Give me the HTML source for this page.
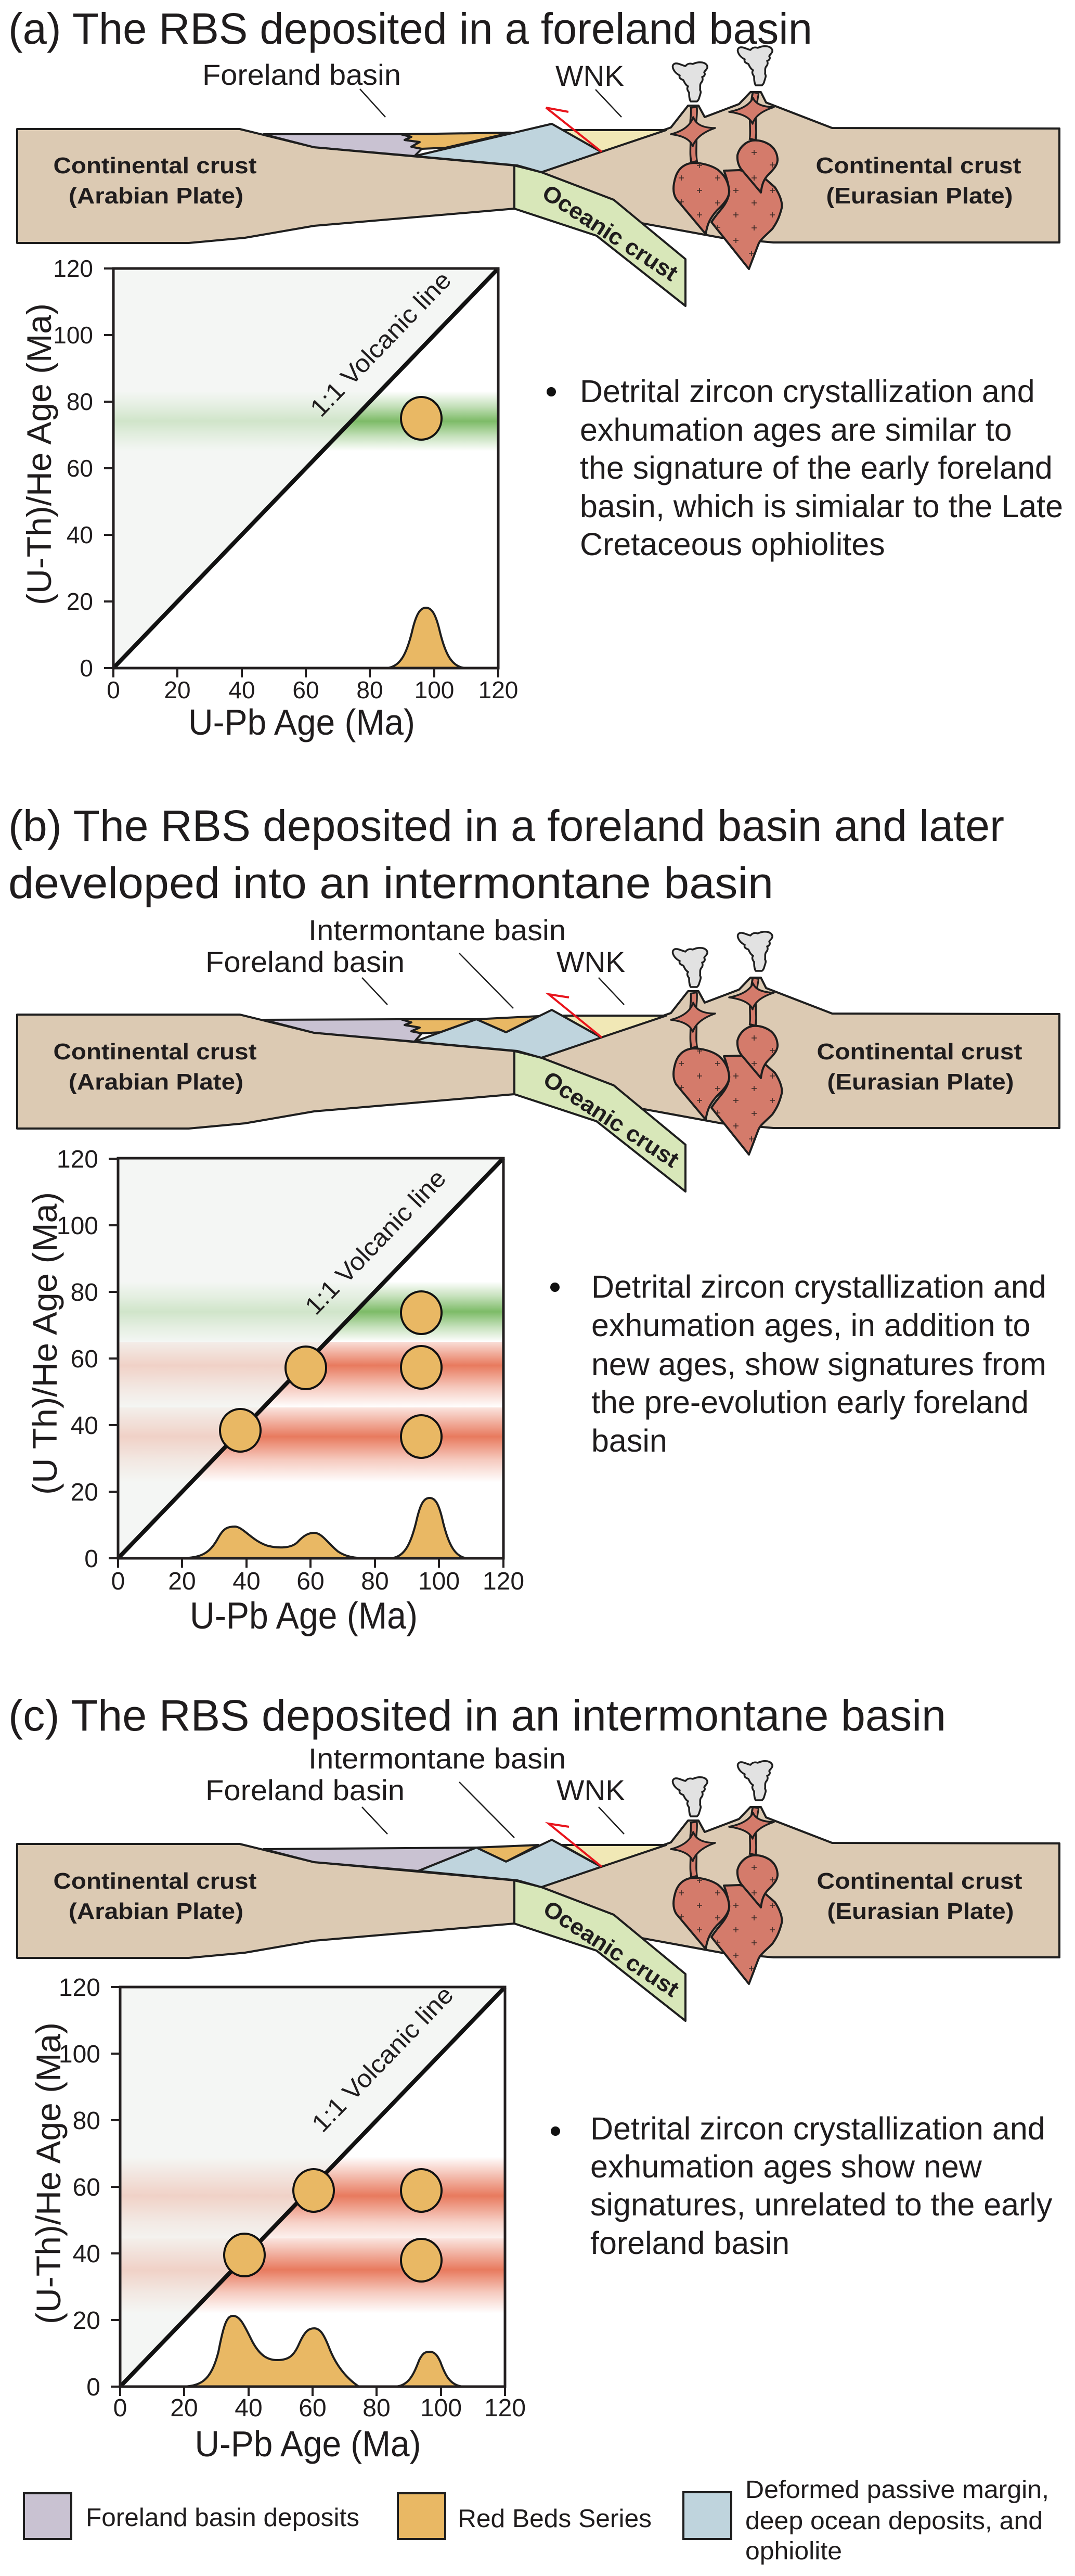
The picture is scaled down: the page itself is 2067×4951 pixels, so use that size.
<!DOCTYPE html>
<html><head><meta charset="utf-8">
<style>
html,body{margin:0;padding:0;background:#fff;}
svg{display:block;}
text{font-family:"Liberation Sans",Arial,sans-serif;fill:#1f1c1d;}
.b{font-weight:bold;}
</style></head><body>
<svg xmlns="http://www.w3.org/2000/svg" xmlns:xlink="http://www.w3.org/1999/xlink" width="2067" height="4951" viewBox="0 0 2067 4951">
<defs>
  <linearGradient id="gG" x1="0" y1="0" x2="0" y2="1">
    <stop offset="0" stop-color="#7dbb67" stop-opacity="0"/>
    <stop offset="0.25" stop-color="#7dbb67" stop-opacity="0.45"/>
    <stop offset="0.5" stop-color="#7dbb67" stop-opacity="1"/>
    <stop offset="0.75" stop-color="#7dbb67" stop-opacity="0.45"/>
    <stop offset="1" stop-color="#7dbb67" stop-opacity="0"/>
  </linearGradient>
  <linearGradient id="rB1" x1="0" y1="0" x2="0" y2="1">
    <stop offset="0" stop-color="#e87a5e" stop-opacity="0.25"/>
    <stop offset="0.36" stop-color="#e87a5e" stop-opacity="1"/>
    <stop offset="0.7" stop-color="#e87a5e" stop-opacity="0.4"/>
    <stop offset="1" stop-color="#e87a5e" stop-opacity="0"/>
  </linearGradient>
  <linearGradient id="rB2" x1="0" y1="0" x2="0" y2="1">
    <stop offset="0" stop-color="#e87a5e" stop-opacity="0.2"/>
    <stop offset="0.39" stop-color="#e87a5e" stop-opacity="1"/>
    <stop offset="0.7" stop-color="#e87a5e" stop-opacity="0.4"/>
    <stop offset="1" stop-color="#e87a5e" stop-opacity="0"/>
  </linearGradient>
  <linearGradient id="rC1" x1="0" y1="0" x2="0" y2="1">
    <stop offset="0" stop-color="#e87a5e" stop-opacity="0"/>
    <stop offset="0.48" stop-color="#e87a5e" stop-opacity="1"/>
    <stop offset="0.8" stop-color="#e87a5e" stop-opacity="0.35"/>
    <stop offset="1" stop-color="#e87a5e" stop-opacity="0.1"/>
  </linearGradient>
  <linearGradient id="rC2" x1="0" y1="0" x2="0" y2="1">
    <stop offset="0" stop-color="#e87a5e" stop-opacity="0.2"/>
    <stop offset="0.42" stop-color="#e87a5e" stop-opacity="1"/>
    <stop offset="0.72" stop-color="#e87a5e" stop-opacity="0.4"/>
    <stop offset="1" stop-color="#e87a5e" stop-opacity="0"/>
  </linearGradient>

  <g id="xs" stroke="#1e1e1e" stroke-width="4" stroke-linejoin="round">
    <!-- left crust -->
    <polygon fill="#dccab3" points="33,248 461,248 604,283 989,318 989,401 604,434 471,457 363,467 33,467"/>
    <!-- right crust -->
    <polygon fill="#dccab3" points="1041,331 1156,292 1290,245 1323,203 1343,203 1355,225 1421,200 1443,177 1463,177 1473,197 1600,246 2037,247 2037,466 1487,466 1387,457 1234,429 1180,384"/>
    <!-- oceanic crust -->
    <polygon fill="#d8e7b9" points="989,318 1041,331 1180,384 1318,498 1318,588 1147,453 989,401"/>
    <!-- yellow WNK -->
    <polygon fill="#f1e8b6" points="1081,250 1281,250 1156,292"/>
    <!-- plutons -->
    <path fill="#d47b6b" d="M1392,328 L1422,327 C1440,330 1460,345 1473,345 L1490,360 C1500,375 1505,390 1503,400 C1498,420 1492,430 1485,440 C1470,455 1462,460 1458,470 L1440,517 L1368,427 C1375,415 1385,405 1390,398 C1400,385 1403,372 1402,365 C1400,350 1396,338 1392,328 Z"/>
    <path fill="#d47b6b" d="M1333,313 C1318,314 1305,322 1299,340 C1294,356 1293,370 1300,382 L1357,450 C1360,430 1365,420 1378,405 C1392,392 1402,380 1402,368 C1401,350 1393,336 1380,326 C1368,318 1350,313 1333,313 Z"/>
    <path fill="#d47b6b" d="M1447,270 C1435,272 1422,282 1418,298 C1417,310 1420,318 1425,325 L1463,370 C1465,355 1468,345 1478,335 C1490,323 1496,315 1495,305 C1494,293 1488,283 1478,277 C1468,271 1457,269 1447,270 Z"/>
    <!-- dikes -->
    <path fill="none" stroke-width="15" d="M1334,205 C1336,220 1331,235 1333,253 C1335,275 1331,295 1335,313"/>
    <path fill="none" stroke="#d47b6b" stroke-width="8" d="M1334,208 C1336,220 1331,235 1333,253 C1335,275 1331,295 1335,309"/>
    <path fill="none" stroke-width="15" d="M1453,177 C1450,195 1449,205 1448,213 C1446,235 1450,255 1447,270"/>
    <path fill="none" stroke="#d47b6b" stroke-width="8" d="M1453,180 C1450,195 1449,205 1448,213 C1446,235 1450,255 1447,266"/>
    <!-- stars -->
    <path fill="#d47b6b" stroke-width="3.5" d="M1290,258 Q1325,249 1333,225 Q1340,246 1375,246 Q1340,258 1332,281 Q1325,262 1290,258 Z"/>
    <path fill="#d47b6b" stroke-width="3.5" d="M1402,215 Q1438,208 1448,188 Q1454,205 1488,206 Q1453,217 1447,238 Q1440,220 1402,215 Z"/>
    <!-- smoke -->
    <path fill="#e2e2e2" stroke-width="3.5" d="M1328,195 C1325,190 1325,183 1325,178 C1322,174 1320,170 1323,166 C1318,163 1316,158 1314,154 C1309,152 1305,150 1307,145 C1301,142 1296,137 1294,131 C1292,125 1296,121 1302,122 C1308,123 1313,126 1318,127 C1321,123 1326,121 1332,123 C1337,121 1342,119 1350,120 C1356,121 1361,125 1360,130 C1359,134 1355,136 1354,139 C1357,143 1354,147 1350,148 C1352,152 1351,156 1348,159 C1345,163 1347,168 1346,173 C1349,177 1346,182 1345,186 C1344,190 1343,193 1340,195 Z"/>
    <path fill="#e2e2e2" stroke-width="3.5" transform="translate(125,-31)" d="M1328,195 C1325,190 1325,183 1325,178 C1322,174 1320,170 1323,166 C1318,163 1316,158 1314,154 C1309,152 1305,150 1307,145 C1301,142 1296,137 1294,131 C1292,125 1296,121 1302,122 C1308,123 1313,126 1318,127 C1321,123 1326,121 1332,123 C1337,121 1342,119 1350,120 C1356,121 1361,125 1360,130 C1359,134 1355,136 1354,139 C1357,143 1354,147 1350,148 C1352,152 1351,156 1348,159 C1345,163 1347,168 1346,173 C1349,177 1346,182 1345,186 C1344,190 1343,193 1340,195 Z"/>
    <!-- crosses -->
    <path fill="none" stroke="#3a2a26" stroke-width="1.6" d="M1305,342h10M1310,337v10 M1375,342h10M1380,337v10 M1340,366h10M1345,361v10 M1375,390h10M1380,385v10 M1340,413h10M1345,408v10 M1305,388h10M1310,383v10 M1340,318h10M1345,313v10 M1410,366h10M1415,361v10 M1445,390h10M1450,385v10 M1410,413h10M1415,408v10 M1480,413h10M1485,408v10 M1445,438h10M1450,433v10 M1410,462h10M1415,457v10 M1480,366h10M1485,361v10 M1375,437h10M1380,432v10 M1440,487h10M1445,482v10 M1445,293h10M1450,288v10 M1480,317h10M1485,312v10 M1445,342h10M1450,337v10"/>
  </g>
</defs>

<!-- ============ (a) ============ -->
<text x="16" y="84" font-size="84" textLength="1546" lengthAdjust="spacingAndGlyphs">(a) The RBS deposited in a foreland basin</text>

<g>
  <use xlink:href="#xs" href="#xs"/>
  <g stroke="#1e1e1e" stroke-width="4" stroke-linejoin="round">
    <polygon fill="#c9c2d2" points="507,258 771,258 791,263 778,269 807,273 791,282 811,286 797,300 604,283"/>
    <polygon fill="#e9b864" points="771,258 982,255 857,284 811,286 791,282 807,273 778,269 791,263"/>
    <polygon fill="#bfd4dd" points="797,300 1061,238 1156,292 1041,331 995,318"/>
  </g>
  <path stroke="#e8141c" stroke-width="4" fill="none" d="M1157,292 L1050,207 L1093,215"/>
  <g stroke="#1e1e1e" stroke-width="2.5">
    <line x1="692" y1="171" x2="741" y2="225"/>
    <line x1="1145" y1="172" x2="1195" y2="225"/>
  </g>
  <text x="389" y="163" font-size="56" textLength="382" lengthAdjust="spacingAndGlyphs">Foreland basin</text>
  <text x="1068" y="165" font-size="56" textLength="132" lengthAdjust="spacingAndGlyphs">WNK</text>
  <text class="b" x="298" y="333" font-size="44" text-anchor="middle" textLength="391" lengthAdjust="spacingAndGlyphs">Continental crust</text>
  <text class="b" x="300" y="391" font-size="44" text-anchor="middle" textLength="336" lengthAdjust="spacingAndGlyphs">(Arabian Plate)</text>
  <text class="b" x="1766" y="333" font-size="44" text-anchor="middle" textLength="395" lengthAdjust="spacingAndGlyphs">Continental crust</text>
  <text class="b" x="1768" y="391" font-size="44" text-anchor="middle" textLength="359" lengthAdjust="spacingAndGlyphs">(Eurasian Plate)</text>
  <text class="b" transform="translate(1165,460) rotate(33)" font-size="44" text-anchor="middle" textLength="300" lengthAdjust="spacingAndGlyphs">Oceanic crust</text>
</g>

<!-- chart a -->
<g>
  <polygon fill="#f4f6f4" points="218,516 218,1284 958,516"/>
  <rect x="218" y="752" width="740" height="115" fill="url(#gG)"/>
  <polygon fill="#f4f6f4" fill-opacity="0.7" points="218,516 218,1284 958,516"/>
  <path fill="#e9b864" stroke="#1e1e1e" stroke-width="4" d="M742,1284 C770,1283 782,1255 792,1215 C800,1180 808,1168 819,1168 C830,1168 838,1180 846,1215 C856,1255 868,1283 896,1284 Z"/>
  <line x1="218" y1="1284" x2="958" y2="516" stroke="#111" stroke-width="8"/>
  <rect x="218" y="516" width="740" height="768" fill="none" stroke="#231f20" stroke-width="5"/>
  <path stroke="#231f20" stroke-width="4" d="M200,1284h18M200,1156h18M200,1028h18M200,900h18M200,772h18M200,644h18M200,516h18 M218,1284v18M341,1284v18M465,1284v18M588,1284v18M711,1284v18M835,1284v18M958,1284v18"/>
  <ellipse cx="810" cy="804" rx="39" ry="41" fill="#e9b864" stroke="#111" stroke-width="4"/>
  <text transform="translate(617,804) rotate(-46.07)" font-size="48" textLength="365" lengthAdjust="spacingAndGlyphs">1:1 Volcanic line</text>
  <g font-size="46" text-anchor="end">
    <text x="179" y="1300">0</text><text x="179" y="1172">20</text><text x="179" y="1044">40</text><text x="179" y="916">60</text><text x="179" y="788">80</text><text x="179" y="660">100</text><text x="179" y="532">120</text>
  </g>
  <g font-size="46" text-anchor="middle">
    <text x="218" y="1342">0</text><text x="341" y="1342">20</text><text x="465" y="1342">40</text><text x="588" y="1342">60</text><text x="711" y="1342">80</text><text x="835" y="1342">100</text><text x="958" y="1342">120</text>
  </g>
  <text x="580" y="1412" font-size="70" text-anchor="middle" textLength="436" lengthAdjust="spacingAndGlyphs">U-Pb Age (Ma)</text>
  <text transform="translate(98,873) rotate(-90)" font-size="66" text-anchor="middle" textLength="580" lengthAdjust="spacingAndGlyphs">(U-Th)/He Age (Ma)</text>
</g>
<circle cx="1060" cy="753" r="9" fill="#111"/>
<g font-size="61">
  <text x="1115" y="773">Detrital zircon crystallization and</text>
  <text x="1115" y="847">exhumation ages are similar to</text>
  <text x="1115" y="920">the signature of the early foreland</text>
  <text x="1115" y="994">basin, which is simialar to the Late</text>
  <text x="1115" y="1067">Cretaceous ophiolites</text>
</g>

<!-- ============ (b) ============ -->
<text x="16" y="1616" font-size="84" textLength="1915" lengthAdjust="spacingAndGlyphs">(b) The RBS deposited in a foreland basin and later</text>
<text x="16" y="1726" font-size="84" textLength="1471" lengthAdjust="spacingAndGlyphs">developed into an intermontane basin</text>

<g transform="translate(0,1702)">
  <use xlink:href="#xs" href="#xs"/>
  <g stroke="#1e1e1e" stroke-width="4" stroke-linejoin="round">
    <polygon fill="#c9c2d2" points="507,258 771,257 791,263 778,268 807,273 791,280 811,284 797,300 604,283"/>
    <polygon fill="#e9b864" points="771,257 916,257 846,282 811,284 791,280 807,273 778,268 791,263"/>
    <polygon fill="#e9b864" points="916,257 1035,251 973,282"/>
    <polygon fill="#bfd4dd" points="797,300 916,257 973,282 1061,239 1156,292 1041,331 995,318"/>
  </g>
  <path stroke="#e8141c" stroke-width="4" fill="none" d="M1157,292 L1055,209 L1094,215"/>
  <g stroke="#1e1e1e" stroke-width="2.5">
    <line x1="696" y1="177" x2="745" y2="229"/>
    <line x1="883" y1="130" x2="987" y2="236"/>
    <line x1="1151" y1="177" x2="1200" y2="229"/>
  </g>
  <text x="593" y="105" font-size="56" textLength="495" lengthAdjust="spacingAndGlyphs">Intermontane basin</text>
  <text x="395" y="166" font-size="56" textLength="383" lengthAdjust="spacingAndGlyphs">Foreland basin</text>
  <text x="1070" y="166" font-size="56" textLength="132" lengthAdjust="spacingAndGlyphs">WNK</text>
  <text class="b" x="298" y="334" font-size="44" text-anchor="middle" textLength="391" lengthAdjust="spacingAndGlyphs">Continental crust</text>
  <text class="b" x="300" y="392" font-size="44" text-anchor="middle" textLength="336" lengthAdjust="spacingAndGlyphs">(Arabian Plate)</text>
  <text class="b" x="1768" y="334" font-size="44" text-anchor="middle" textLength="395" lengthAdjust="spacingAndGlyphs">Continental crust</text>
  <text class="b" x="1770" y="392" font-size="44" text-anchor="middle" textLength="359" lengthAdjust="spacingAndGlyphs">(Eurasian Plate)</text>
  <text class="b" transform="translate(1167,462) rotate(33)" font-size="44" text-anchor="middle" textLength="300" lengthAdjust="spacingAndGlyphs">Oceanic crust</text>
</g>

<!-- chart b -->
<g>
  <polygon fill="#f4f6f4" points="227,2226 227,2995 968,2226"/>
  <rect x="227" y="2463" width="741" height="116" fill="url(#gG)"/>
  <rect x="227" y="2579" width="741" height="126" fill="url(#rB1)"/>
  <rect x="227" y="2705" width="741" height="144" fill="url(#rB2)"/>
  <polygon fill="#f4f6f4" fill-opacity="0.7" points="227,2226 227,2995 968,2226"/>
  <path fill="#e9b864" stroke="#1e1e1e" stroke-width="4" d="M340,2995 C385,2995 402,2988 420,2955 C430,2937 438,2934 452,2934 C468,2935 485,2962 515,2971 C535,2976 560,2976 572,2964 C585,2950 594,2946 605,2946 C620,2947 632,2968 650,2982 C665,2992 682,2995 705,2995 Z"/>
  <path fill="#e9b864" stroke="#1e1e1e" stroke-width="4" d="M750,2995 C778,2994 790,2966 800,2926 C808,2890 815,2879 826,2879 C837,2879 844,2890 852,2926 C862,2966 874,2994 900,2995 Z"/>
  <line x1="227" y1="2995" x2="968" y2="2226" stroke="#111" stroke-width="8"/>
  <rect x="227" y="2226" width="741" height="769" fill="none" stroke="#231f20" stroke-width="5"/>
  <path stroke="#231f20" stroke-width="4" d="M209,2995h18M209,2867h18M209,2739h18M209,2611h18M209,2483h18M209,2355h18M209,2227h18 M227,2995v18M350,2995v18M474,2995v18M597,2995v18M721,2995v18M844,2995v18M968,2995v18"/>
  <g fill="#e9b864" stroke="#111" stroke-width="4">
    <ellipse cx="810" cy="2523" rx="39" ry="41"/>
    <ellipse cx="588" cy="2629" rx="39" ry="41"/>
    <ellipse cx="810" cy="2628" rx="39" ry="41"/>
    <ellipse cx="462" cy="2749" rx="39" ry="41"/>
    <ellipse cx="810" cy="2761" rx="39" ry="41"/>
  </g>
  <text transform="translate(607,2530) rotate(-46.07)" font-size="48" textLength="365" lengthAdjust="spacingAndGlyphs">1:1 Volcanic line</text>
  <g font-size="48" text-anchor="end">
    <text x="189" y="3012">0</text><text x="189" y="2884">20</text><text x="189" y="2756">40</text><text x="189" y="2628">60</text><text x="189" y="2500">80</text><text x="189" y="2372">100</text><text x="189" y="2244">120</text>
  </g>
  <g font-size="48" text-anchor="middle">
    <text x="227" y="3055">0</text><text x="350" y="3055">20</text><text x="474" y="3055">40</text><text x="597" y="3055">60</text><text x="721" y="3055">80</text><text x="844" y="3055">100</text><text x="968" y="3055">120</text>
  </g>
  <text x="584" y="3130" font-size="72" text-anchor="middle" textLength="438" lengthAdjust="spacingAndGlyphs">U-Pb Age (Ma)</text>
  <text transform="translate(109,2582) rotate(-90)" font-size="66" text-anchor="middle" textLength="582" lengthAdjust="spacingAndGlyphs">(U Th)/He Age (Ma)</text>
</g>
<circle cx="1067" cy="2474" r="9" fill="#111"/>
<g font-size="61">
  <text x="1137" y="2494">Detrital zircon crystallization and</text>
  <text x="1137" y="2568">exhumation ages, in addition to</text>
  <text x="1137" y="2643">new ages, show signatures from</text>
  <text x="1137" y="2716">the pre-evolution early foreland</text>
  <text x="1137" y="2790">basin</text>
</g>

<!-- ============ (c) ============ -->
<text x="16" y="3326" font-size="84" textLength="1803" lengthAdjust="spacingAndGlyphs">(c) The RBS deposited in an intermontane basin</text>

<g transform="translate(0,3296)">
  <use xlink:href="#xs" href="#xs"/>
  <g stroke="#1e1e1e" stroke-width="4" stroke-linejoin="round">
    <polygon fill="#c9c2d2" points="507,258 916,255 804,300 604,283"/>
    <polygon fill="#e9b864" points="916,255 1035,250 973,282"/>
    <polygon fill="#bfd4dd" points="804,300 916,255 973,282 1061,240 1156,292 1041,331 995,318"/>
  </g>
  <path stroke="#e8141c" stroke-width="4" fill="none" d="M1157,292 L1055,209 L1094,215"/>
  <g stroke="#1e1e1e" stroke-width="2.5">
    <line x1="696" y1="177" x2="745" y2="229"/>
    <line x1="883" y1="129" x2="989" y2="236"/>
    <line x1="1151" y1="177" x2="1200" y2="229"/>
  </g>
  <text x="593" y="103" font-size="56" textLength="495" lengthAdjust="spacingAndGlyphs">Intermontane basin</text>
  <text x="395" y="164" font-size="56" textLength="383" lengthAdjust="spacingAndGlyphs">Foreland basin</text>
  <text x="1070" y="164" font-size="56" textLength="132" lengthAdjust="spacingAndGlyphs">WNK</text>
  <text class="b" x="298" y="334" font-size="44" text-anchor="middle" textLength="391" lengthAdjust="spacingAndGlyphs">Continental crust</text>
  <text class="b" x="300" y="392" font-size="44" text-anchor="middle" textLength="336" lengthAdjust="spacingAndGlyphs">(Arabian Plate)</text>
  <text class="b" x="1768" y="334" font-size="44" text-anchor="middle" textLength="395" lengthAdjust="spacingAndGlyphs">Continental crust</text>
  <text class="b" x="1770" y="392" font-size="44" text-anchor="middle" textLength="359" lengthAdjust="spacingAndGlyphs">(Eurasian Plate)</text>
  <text class="b" transform="translate(1167,462) rotate(33)" font-size="44" text-anchor="middle" textLength="300" lengthAdjust="spacingAndGlyphs">Oceanic crust</text>
</g>

<!-- chart c -->
<g>
  <polygon fill="#f4f6f4" points="231,3819 231,4587 971,3819"/>
  <rect x="231" y="4145" width="740" height="157" fill="url(#rC1)"/>
  <rect x="231" y="4302" width="740" height="144" fill="url(#rC2)"/>
  <polygon fill="#f4f6f4" fill-opacity="0.7" points="231,3819 231,4587 971,3819"/>
  <path fill="#e9b864" stroke="#1e1e1e" stroke-width="4" d="M345,4587 C385,4587 405,4578 420,4520 C430,4468 436,4451 448,4451 C462,4451 470,4470 485,4500 C500,4528 515,4536 533,4536 C555,4536 565,4528 575,4505 C587,4478 595,4475 604,4475 C615,4475 622,4485 632,4510 C645,4545 665,4570 690,4587 Z"/>
  <path fill="#e9b864" stroke="#1e1e1e" stroke-width="4" d="M758,4587 C786,4587 796,4562 806,4536 C813,4522 818,4520 826,4520 C834,4520 840,4524 847,4540 C856,4565 866,4586 892,4587 Z"/>
  <line x1="231" y1="4587" x2="971" y2="3819" stroke="#111" stroke-width="8"/>
  <rect x="231" y="3819" width="740" height="768" fill="none" stroke="#231f20" stroke-width="5"/>
  <path stroke="#231f20" stroke-width="4" d="M213,4587h18M213,4459h18M213,4331h18M213,4203h18M213,4075h18M213,3947h18M213,3819h18 M231,4587v18M354,4587v18M478,4587v18M601,4587v18M724,4587v18M848,4587v18M971,4587v18"/>
  <g fill="#e9b864" stroke="#111" stroke-width="4">
    <ellipse cx="603" cy="4210" rx="39" ry="41"/>
    <ellipse cx="810" cy="4210" rx="39" ry="41"/>
    <ellipse cx="470" cy="4334" rx="39" ry="41"/>
    <ellipse cx="810" cy="4344" rx="39" ry="41"/>
  </g>
  <text transform="translate(620,4101) rotate(-46.07)" font-size="48" textLength="367" lengthAdjust="spacingAndGlyphs">1:1 Volcanic line</text>
  <g font-size="48" text-anchor="end">
    <text x="193" y="4604">0</text><text x="193" y="4476">20</text><text x="193" y="4348">40</text><text x="193" y="4220">60</text><text x="193" y="4092">80</text><text x="193" y="3964">100</text><text x="193" y="3836">120</text>
  </g>
  <g font-size="48" text-anchor="middle">
    <text x="231" y="4644">0</text><text x="354" y="4644">20</text><text x="478" y="4644">40</text><text x="601" y="4644">60</text><text x="724" y="4644">80</text><text x="848" y="4644">100</text><text x="971" y="4644">120</text>
  </g>
  <text x="592" y="4721" font-size="70" text-anchor="middle" textLength="435" lengthAdjust="spacingAndGlyphs">U-Pb Age (Ma)</text>
  <text transform="translate(116,4177) rotate(-90)" font-size="66" text-anchor="middle" textLength="580" lengthAdjust="spacingAndGlyphs">(U-Th)/He Age (Ma)</text>
</g>
<circle cx="1068" cy="4096" r="9" fill="#111"/>
<g font-size="61">
  <text x="1135" y="4112">Detrital zircon crystallization and</text>
  <text x="1135" y="4185">exhumation ages show new</text>
  <text x="1135" y="4258">signatures, unrelated to the early</text>
  <text x="1135" y="4332">foreland basin</text>
</g>

<!-- ============ legend ============ -->
<g stroke="#1e1e1e" stroke-width="4">
  <rect x="46" y="4792" width="91" height="88" fill="#c9c2d2"/>
  <rect x="765" y="4792" width="91" height="88" fill="#e9b864"/>
  <rect x="1314" y="4790" width="92" height="90" fill="#bfd4dd"/>
</g>
<text x="165" y="4855" font-size="49" textLength="526" lengthAdjust="spacingAndGlyphs">Foreland basin deposits</text>
<text x="880" y="4857" font-size="49" textLength="373" lengthAdjust="spacingAndGlyphs">Red Beds Series</text>
<text x="1433" y="4801" font-size="48" textLength="584" lengthAdjust="spacingAndGlyphs">Deformed passive margin,</text>
<text x="1433" y="4861" font-size="48" textLength="572" lengthAdjust="spacingAndGlyphs">deep ocean deposits, and</text>
<text x="1433" y="4919" font-size="48" textLength="186" lengthAdjust="spacingAndGlyphs">ophiolite</text>
</svg>
</body></html>
